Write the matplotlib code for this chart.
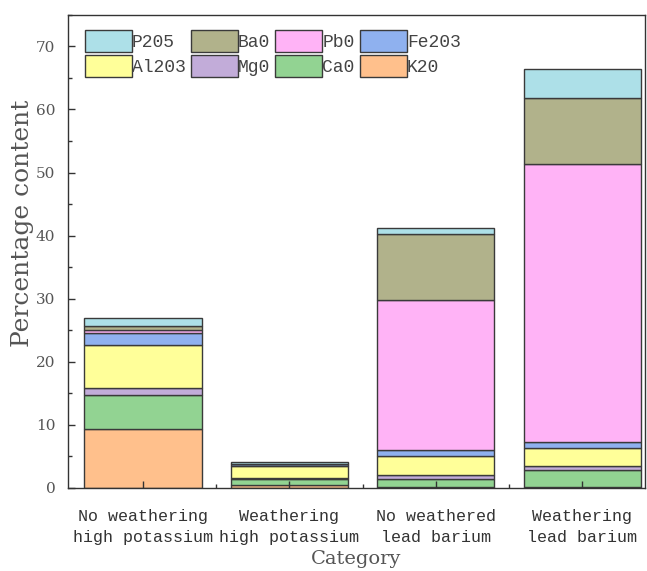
import matplotlib
matplotlib.use("Agg")
import matplotlib.pyplot as plt
import numpy as np
from matplotlib.ticker import MultipleLocator, FixedLocator

# Mean oxide content (%) per glass group, stacked bottom-up
categories = [
    "No weathering\nhigh potassium",
    "Weathering\nhigh potassium",
    "No weathered\nlead barium",
    "Weathering\nlead barium",
]
K2O = [9.4, 0.54, 0.2, 0.1]
CaO = [5.4, 0.87, 1.3, 2.8]
MgO = [1.0, 0.20, 0.6, 0.6]
Al2O3 = [6.9, 1.93, 3.0, 2.9]
Fe2O3 = [1.9, 0.27, 0.9, 0.9]
PbO = [0.5, 0.0, 23.8, 44.1]
BaO = [0.5, 0.0, 10.4, 10.4]
P2O5 = [1.3, 0.28, 1.0, 4.6]

layers = [
    ("K20", K2O, "#ffc08c"),
    ("Ca0", CaO, "#92d392"),
    ("Mg0", MgO, "#c2acd9"),
    ("Al203", Al2O3, "#ffff99"),
    ("Fe203", Fe2O3, "#8fb1ef"),
    ("Pb0", PbO, "#ffb3f6"),
    ("Ba0", BaO, "#b1b28b"),
    ("P205", P2O5, "#ade0e8"),
]

fig = plt.figure(figsize=(6.47, 5.71), dpi=100)
ax = fig.add_axes([0.105, 0.1454, 0.892, 0.8286])

x = np.arange(len(categories))
bottom = np.zeros(len(categories))
handles = {}
for name, vals, color in layers:
    vals = np.array(vals)
    bars = ax.bar(x, vals, 0.8, bottom=bottom, color=color,
                  edgecolor="#3a3a3a", linewidth=1.0, label=name)
    handles[name] = bars
    bottom += vals

ax.set_xlim(-0.513, 3.43)
ax.set_ylim(0, 75)

ax.xaxis.set_major_locator(FixedLocator(x))
ax.xaxis.set_minor_locator(FixedLocator([0.5, 1.5, 2.5]))
ax.yaxis.set_major_locator(MultipleLocator(10))
ax.yaxis.set_minor_locator(MultipleLocator(5))
ax.tick_params(which="both", direction="in", color="#333333", width=1)
ax.tick_params(which="major", length=5)
ax.tick_params(which="minor", length=3)
ax.tick_params(axis="y", pad=9, labelsize=11, labelcolor="#555555")
ax.tick_params(axis="x", pad=15, labelsize=12, labelcolor="#333333")

ax.set_xticklabels(categories, family="Liberation Mono", linespacing=1.5)
for lbl in ax.get_yticklabels():
    lbl.set_family("DejaVu Serif")

for sp in ax.spines.values():
    sp.set_color("#333333")
    sp.set_linewidth(1.0)

ax.set_ylabel("Percentage content", family="DejaVu Serif", fontsize=18,
              color="#555555")
ax.yaxis.set_label_coords(-0.058, 0.56)
ax.set_xlabel("Category", family="DejaVu Serif", fontsize=14,
              color="#555555")
ax.xaxis.set_label_coords(0.5, -0.131)

order = ["P205", "Al203", "Ba0", "Mg0", "Pb0", "Ca0", "Fe203", "K20"]
ax.legend([handles[n] for n in order], order, ncol=4, loc="upper left",
          bbox_to_anchor=(0.029, 0.968), frameon=False,
          prop={"family": "Liberation Mono", "size": 13},
          handlelength=2.6, handleheight=1.5, handletextpad=0.0,
          columnspacing=0.3, labelspacing=0.15, borderpad=0.0,
          borderaxespad=0.0, labelcolor="#444444")

fig.savefig("out.png", dpi=100)
